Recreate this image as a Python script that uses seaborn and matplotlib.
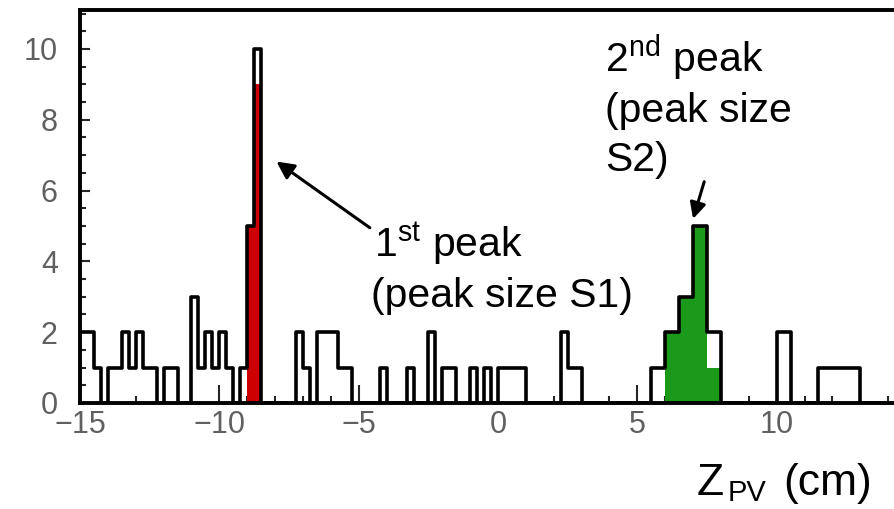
import numpy as np
import pandas as pd
import matplotlib
matplotlib.use("Agg")
import matplotlib.pyplot as plt
from matplotlib.ticker import MultipleLocator
import seaborn as sns

# Primary-vertex z distribution, 0.25 cm bins from -15 cm to +15 cm
z_low, z_high, bin_width = -15.0, 15.0, 0.25
vertex_counts = [
    2, 2, 1, 0, 1, 1, 2, 1, 2, 1,
    1, 0, 1, 1, 0, 0, 3, 1, 2, 1,
    2, 1, 0, 1, 5, 10, 0, 0, 0, 0,
    0, 2, 1, 0, 2, 2, 2, 1, 1, 0,
    0, 0, 0, 1, 0, 0, 0, 1, 0, 0,
    2, 0, 1, 1, 0, 0, 1, 0, 1, 0,
    1, 1, 1, 1, 0, 0, 0, 0, 0, 2,
    1, 1, 0, 0, 0, 0, 0, 0, 0, 0,
    0, 0, 1, 1, 2, 2, 3, 3, 5, 5,
    2, 2, 0, 0, 0, 0, 0, 0, 0, 0,
    2, 2, 0, 0, 0, 0, 1, 1, 1, 1,
    1, 1, 0, 0, 0, 0, 0, 0, 0, 0,
]

# Entries assigned to each peak (left bin edges in cm, counts)
peak1_edges = [-9.0, -8.75]
peak1_counts = [5, 9]
peak2_edges = [6.0, 6.25, 6.5, 6.75, 7.0, 7.25, 7.5, 7.75]
peak2_counts = [2, 2, 3, 3, 5, 5, 1, 1]

x_ticks = [-15, -10, -5, 0, 5, 10]
y_ticks = [0, 2, 4, 6, 8, 10]

sns.set_style("ticks")
plt.rcParams["font.family"] = ["Liberation Sans", "DejaVu Sans"]
plt.rcParams["mathtext.fontset"] = "custom"
plt.rcParams["mathtext.rm"] = "Liberation Sans"
plt.rcParams["mathtext.it"] = "Liberation Sans:italic"

edges = [float(e) for e in np.arange(z_low, z_high + bin_width / 2, bin_width)]
centers = [e + bin_width / 2 for e in edges[:-1]]
hist_df = pd.DataFrame({"z": centers, "n": vertex_counts})


def peak_frame(left_edges, counts):
    frame = pd.DataFrame({"z": [e + bin_width / 2 for e in left_edges], "n": counts})
    return frame, list(left_edges) + [left_edges[-1] + bin_width]


p1_df, p1_bins = peak_frame(peak1_edges, peak1_counts)
p2_df, p2_bins = peak_frame(peak2_edges, peak2_counts)

fig = plt.figure(figsize=(8.94, 5.09), dpi=100)
ax = fig.add_axes([80 / 894, 1 - 403 / 509, (916 - 80) / 894, (403 - 10) / 509])

sns.histplot(data=p1_df, x="z", weights="n", bins=p1_bins, element="step",
             fill=True, color="#cc0000", alpha=1.0, linewidth=0, ax=ax)
sns.histplot(data=p2_df, x="z", weights="n", bins=p2_bins, element="step",
             fill=True, color="#1a991a", alpha=1.0, linewidth=0, ax=ax)
sns.histplot(data=hist_df, x="z", weights="n", bins=edges, element="step",
             fill=False, color="black", linewidth=2.6, ax=ax)

ax.set_xlim(z_low, z_high)
ax.set_ylim(0, 11.1)
ax.set_xlabel("")
ax.set_ylabel("")
ax.set_xticks(x_ticks)
ax.set_yticks(y_ticks)
ax.xaxis.set_minor_locator(MultipleLocator(1))
ax.yaxis.set_minor_locator(MultipleLocator(0.5))
ax.tick_params(axis="x", which="major", direction="in", length=13, width=1.5,
               labelsize=22, labelcolor="#606060", pad=5)
ax.tick_params(axis="x", which="minor", direction="in", length=5, width=1.5)
ax.tick_params(axis="y", which="major", direction="in", length=7, width=1.5,
               labelsize=22, labelcolor="#606060", pad=16)
ax.tick_params(axis="y", which="minor", direction="in", length=4, width=1.5)
for side in ["left", "top", "bottom", "right"]:
    ax.spines[side].set_visible(True)
    ax.spines[side].set_linewidth(2.8)
    ax.spines[side].set_color("black")

text_kw = dict(fontsize=29.5, color="black", ha="left", va="baseline")
ax.text(-4.45, 4.10, r"1$^{\mathrm{st}}$ peak", **text_kw)
ax.text(-4.55, 2.71, "(peak size S1)", **text_kw)
ax.annotate("", xy=(-7.95, 6.82), xytext=(-4.6, 4.95),
            arrowprops=dict(arrowstyle="-|>", color="black", lw=2.2,
                            mutation_scale=26, shrinkA=0, shrinkB=0))

ax.text(3.85, 9.35, r"2$^{\mathrm{nd}}$ peak", **text_kw)
ax.text(3.85, 7.95, "(peak size", **text_kw)
ax.text(3.85, 6.55, "S2)", **text_kw)
ax.annotate("", xy=(7.0, 5.2), xytext=(7.4, 6.25),
            arrowprops=dict(arrowstyle="-|>", color="black", lw=2.2,
                            mutation_scale=24, shrinkA=0, shrinkB=0))

# Axis title: Z with a large, low subscript, then the unit
label_kw = dict(color="black", ha="left", va="baseline")
fig.text(697 / 894, 1 - 495 / 509, "Z", fontsize=32, **label_kw)
fig.text(728 / 894, 1 - 501 / 509, "PV", fontsize=21, **label_kw)
fig.text(783 / 894, 1 - 495 / 509, "(cm)", fontsize=32, **label_kw)

fig.savefig("out.png", dpi=100)
